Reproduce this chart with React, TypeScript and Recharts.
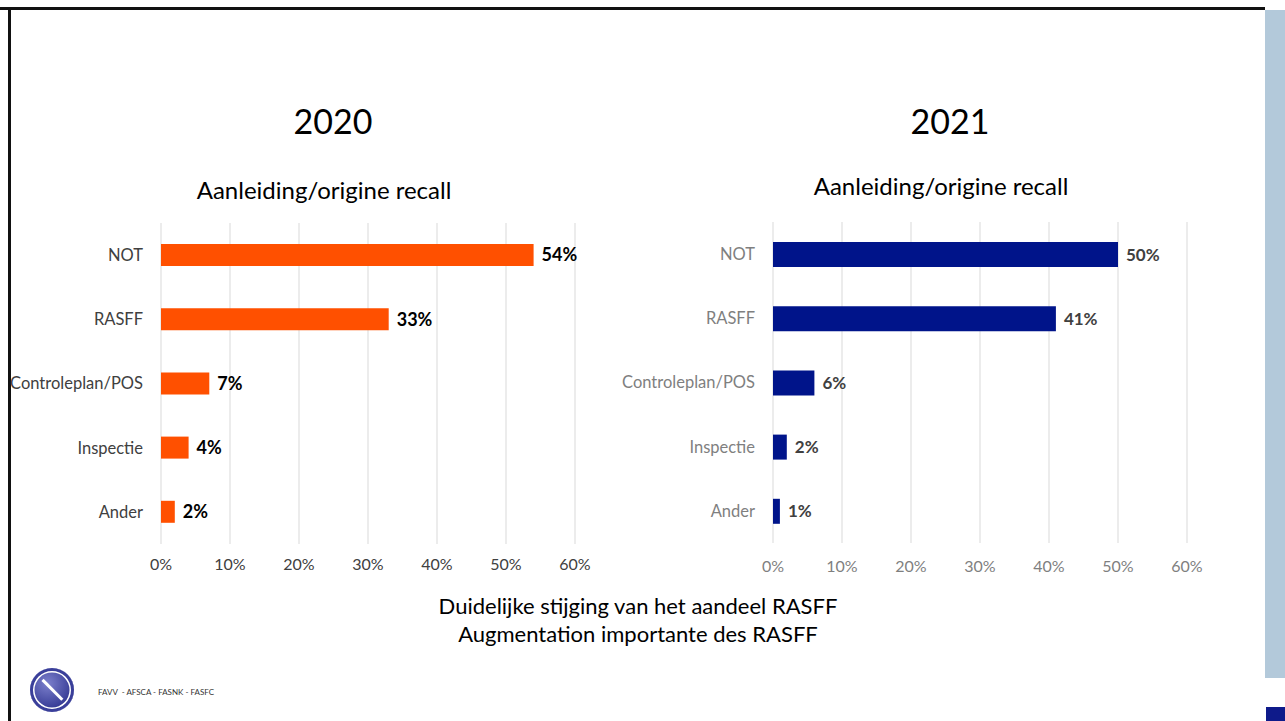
import React from "react";
import {
  BarChart,
  Bar,
  XAxis,
  YAxis,
  CartesianGrid,
  LabelList,
} from "recharts";

/* =======================
   Data
======================= */
const categories = ["NOT", "RASFF", "Controleplan/POS", "Inspectie", "Ander"];
const values2020 = [54, 33, 7, 4, 2];
const values2021 = [50, 41, 6, 2, 1];
const xTicks = [0, 10, 20, 30, 40, 50, 60];

const data2020 = categories.map((name, i) => ({ name, value: values2020[i] }));
const data2021 = categories.map((name, i) => ({ name, value: values2021[i] }));

const FONT = "Lato, 'Open Sans', sans-serif";

/* =======================
   Chart panel
======================= */
const RecallChart = ({
  data,
  barColor,
  barSize,
  yAxisWidth,
  catColor,
  tickColor,
  labelColor,
  labelSize,
  xTickMargin,
}: {
  data: { name: string; value: number }[];
  barColor: string;
  barSize: number;
  yAxisWidth: number;
  catColor: string;
  tickColor: string;
  labelColor: string;
  labelSize: number;
  xTickMargin: number;
}) => (
  <BarChart
    width={yAxisWidth + 414 + 40}
    height={23 + 321 + 45}
    data={data}
    layout="vertical"
    margin={{ top: 23, right: 40, bottom: 0, left: 0 }}
    barCategoryGap={0}
  >
    <CartesianGrid horizontal={false} stroke="#d9d9d9" />
    <XAxis
      type="number"
      domain={[0, 60]}
      ticks={xTicks}
      tickFormatter={(v) => `${v}%`}
      axisLine={false}
      tickLine={false}
      tickSize={0}
      tickMargin={xTickMargin}
      height={45}
      tick={{ fill: tickColor, fontSize: 16, fontFamily: FONT }}
      interval={0}
    />
    <YAxis
      type="category"
      dataKey="name"
      width={yAxisWidth}
      axisLine={false}
      tickLine={false}
      tickSize={0}
      tickMargin={18}
      tick={{ fill: catColor, fontSize: 16.5, fontFamily: FONT }}
      interval={0}
    />
    <Bar
      dataKey="value"
      fill={barColor}
      barSize={barSize}
      isAnimationActive={false}
    >
      <LabelList
        dataKey="value"
        position="right"
        offset={8}
        formatter={(v: number) => `${v}%`}
        style={{
          fill: labelColor,
          fontSize: labelSize,
          fontWeight: 700,
          fontFamily: FONT,
        }}
      />
    </Bar>
  </BarChart>
);

/* =======================
   App
======================= */
export default function App() {
  const text = (style: React.CSSProperties): React.CSSProperties => ({
    position: "absolute",
    fontFamily: FONT,
    color: "#000",
    whiteSpace: "nowrap",
    lineHeight: 1,
    ...style,
  });

  return (
    <div
      style={{
        position: "absolute",
        left: 0,
        top: 0,
        width: 1285,
        height: 721,
        background: "#fff",
        overflow: "hidden",
      }}
    >
      {/* slide frame */}
      <div style={{ position: "absolute", left: 0, top: 7, width: 1265, height: 3, background: "#111" }} />
      <div style={{ position: "absolute", left: 8, top: 7, width: 3, height: 714, background: "#111" }} />
      <div style={{ position: "absolute", left: 1265, top: 10, width: 20, height: 668, background: "#b3c9da" }} />
      <div style={{ position: "absolute", left: 1266, top: 707, width: 19, height: 14, background: "#0e1a8a" }} />

      {/* titles */}
      <div style={text({ left: 233, width: 200, top: 104, fontSize: 34, textAlign: "center" })}>2020</div>
      <div style={text({ left: 850, width: 200, top: 104, fontSize: 34, textAlign: "center" })}>2021</div>
      <div style={text({ left: 124, width: 400, top: 178, fontSize: 24, textAlign: "center" })}>
        Aanleiding/origine recall
      </div>
      <div style={text({ left: 741, width: 400, top: 174, fontSize: 24, textAlign: "center" })}>
        Aanleiding/origine recall
      </div>

      {/* charts */}
      <div style={{ position: "absolute", left: 0, top: 200 }}>
        <RecallChart
          data={data2020}
          barColor="#ff5000"
          barSize={22}
          yAxisWidth={161}
          catColor="#404040"
          tickColor="#404040"
          labelColor="#000"
          labelSize={18}
          xTickMargin={15}
        />
      </div>
      <div style={{ position: "absolute", left: 600, top: 199 }}>
        <RecallChart
          data={data2021}
          barColor="#00148a"
          barSize={25}
          yAxisWidth={173}
          catColor="#7f7f7f"
          tickColor="#7f7f7f"
          labelColor="#404040"
          labelSize={17}
          xTickMargin={18}
        />
      </div>

      {/* footer text */}
      <div style={text({ left: 288, width: 700, top: 595, fontSize: 22, textAlign: "center" })}>
        Duidelijke stijging van het aandeel RASFF
      </div>
      <div style={text({ left: 288, width: 700, top: 623, fontSize: 22, textAlign: "center" })}>
        Augmentation importante des RASFF
      </div>

      {/* logo */}
      <div
        style={{
          position: "absolute",
          left: 30,
          top: 668,
          width: 44,
          height: 44,
          borderRadius: "50%",
          background: "radial-gradient(circle at 40% 35%, #7c80cc, #2f3490 72%)",
          boxShadow: "inset 0 0 0 3px #3a3f9a, inset 0 0 0 4.5px #fff",
        }}
      >
        <div
          style={{
            position: "absolute",
            left: 21,
            top: 8,
            width: 2.5,
            height: 28,
            background: "#fff",
            transform: "rotate(-45deg)",
          }}
        />
      </div>
      <div style={text({ left: 98, top: 688, fontSize: 8, color: "#333" })}>
        FAVV &nbsp;- AFSCA - FASNK - FASFC
      </div>
    </div>
  );
}
